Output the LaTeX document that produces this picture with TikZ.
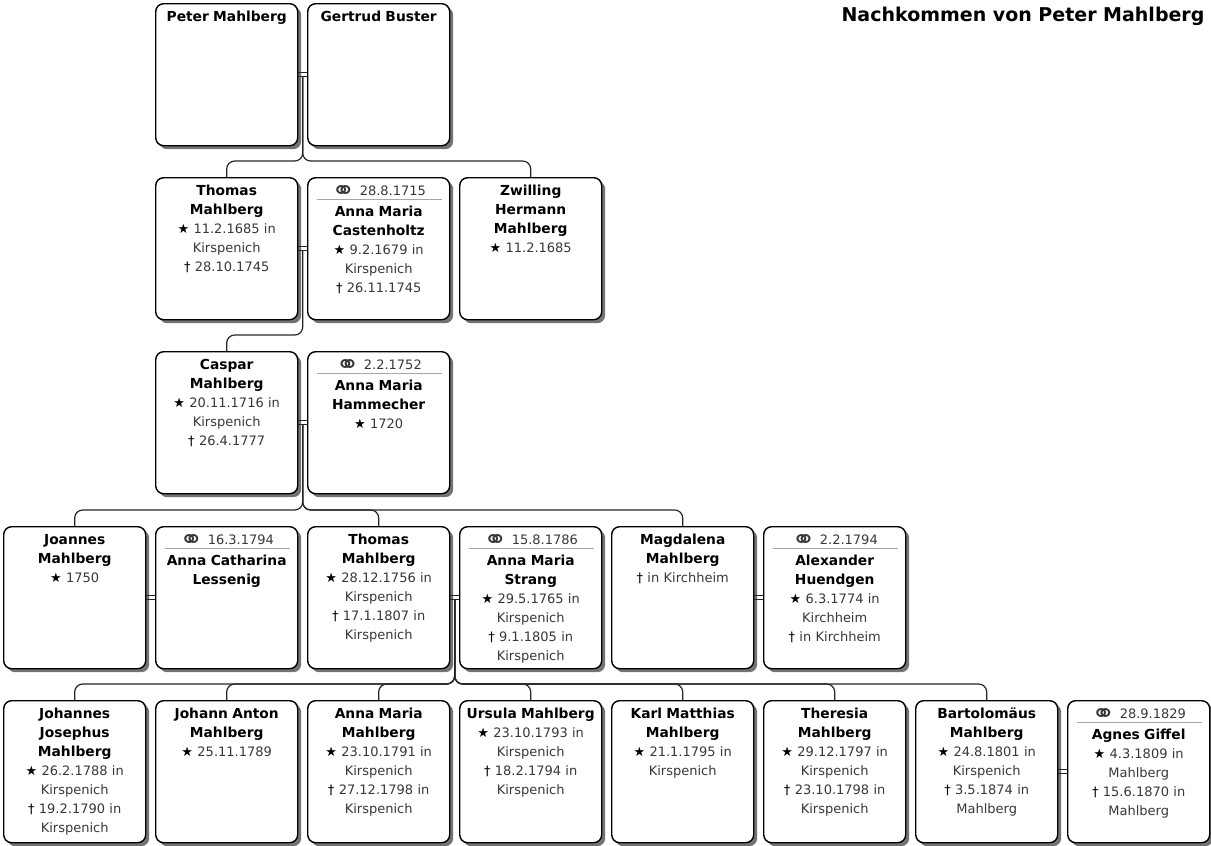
\documentclass[tikz,border=0pt]{standalone}
\usepackage{fontspec}
\usepackage{graphicx}
\setmainfont{DejaVu Sans}
\usetikzlibrary{calc,shadows}
\definecolor{datum}{gray}{0.22}
\definecolor{linie}{gray}{0.15}
\newcommand{\nm}[1]{{\fontsize{13.8}{19}\selectfont\bfseries\color{black}#1}}
\newcommand{\geb}{{\color{black}★}}
\newcommand{\gest}{{\color{black}†}}
\newcommand{\ehe}{\raisebox{-4pt}{\scalebox{2.2}[2]{⚭}}}
\tikzset{
  person/.style={draw=black, line width=1.4pt, fill=white, rounded corners=8pt,
    drop shadow={shadow xshift=3.5pt, shadow yshift=-3.5pt, opacity=0.55, fill=black},
    anchor=north west, text width=136pt, align=center, inner xsep=3pt, inner ysep=2pt,
    text height=16pt, text depth=122pt, text=datum,
    font=\fontsize{13}{19}\selectfont},
  link/.style={draw=linie, line width=1.2pt, rounded corners=8pt},
  couple/.style={draw=linie, line width=1pt},
  trenner/.style={draw=gray!70, line width=0.9pt}
}
\begin{document}
\begin{tikzpicture}[x=1pt,y=-1pt]
   \useasboundingbox (0,0) rectangle (1211,846);
   \node[anchor=base east, font=\fontsize{19}{22}\selectfont\bfseries] (titel) at (1208,21) {Nachkommen von Peter Mahlberg};
   % generation 1
   \node[person] (peter) at (155,3) {\nm{Peter Mahlberg}};
   \node[person] (gertrud) at (307,3) {\nm{Gertrud Buster}};
   % generation 2
   \node[person] (thomas) at (155,177) {\nm{Thomas}\\\nm{Mahlberg}\\\geb{} 11.2.1685 in\\Kirspenich\\\gest{} 28.10.1745};
   \node[person] (castenholtz) at (307,177) {\ehe{} 28.8.1715\\[2pt]\nm{Anna Maria}\\\nm{Castenholtz}\\\geb{} 9.2.1679 in\\Kirspenich\\\gest{} 26.11.1745};
   \node[person] (zwilling) at (459,177) {\nm{Zwilling}\\\nm{Hermann}\\\nm{Mahlberg}\\\geb{} 11.2.1685};
   % generation 3
   \node[person] (caspar) at (155,351) {\nm{Caspar}\\\nm{Mahlberg}\\\geb{} 20.11.1716 in\\Kirspenich\\\gest{} 26.4.1777};
   \node[person] (hammecher) at (307,351) {\ehe{} 2.2.1752\\[2pt]\nm{Anna Maria}\\\nm{Hammecher}\\\geb{} 1720};
   % generation 4
   \node[person] (joannes) at (3,526) {\nm{Joannes}\\\nm{Mahlberg}\\\geb{} 1750};
   \node[person] (lessenig) at (155,526) {\ehe{} 16.3.1794\\[2pt]\nm{Anna Catharina}\\\nm{Lessenig}};
   \node[person] (thomasjr) at (307,526) {\nm{Thomas}\\\nm{Mahlberg}\\\geb{} 28.12.1756 in\\Kirspenich\\\gest{} 17.1.1807 in\\Kirspenich};
   \node[person] (strang) at (459,526) {\ehe{} 15.8.1786\\[2pt]\nm{Anna Maria}\\\nm{Strang}\\\geb{} 29.5.1765 in\\Kirspenich\\\gest{} 9.1.1805 in\\Kirspenich};
   \node[person] (magdalena) at (611,526) {\nm{Magdalena}\\\nm{Mahlberg}\\\gest{} in Kirchheim};
   \node[person] (huendgen) at (763,526) {\ehe{} 2.2.1794\\[2pt]\nm{Alexander}\\\nm{Huendgen}\\\geb{} 6.3.1774 in\\Kirchheim\\\gest{} in Kirchheim};
   % generation 5
   \node[person] (johannes) at (3,700) {\nm{Johannes}\\\nm{Josephus}\\\nm{Mahlberg}\\\geb{} 26.2.1788 in\\Kirspenich\\\gest{} 19.2.1790 in\\Kirspenich};
   \node[person] (johann) at (155,700) {\nm{Johann Anton}\\\nm{Mahlberg}\\\geb{} 25.11.1789};
   \node[person] (annamaria) at (307,700) {\nm{Anna Maria}\\\nm{Mahlberg}\\\geb{} 23.10.1791 in\\Kirspenich\\\gest{} 27.12.1798 in\\Kirspenich};
   \node[person] (ursula) at (459,700) {\nm{Ursula Mahlberg}\\\geb{} 23.10.1793 in\\Kirspenich\\\gest{} 18.2.1794 in\\Kirspenich};
   \node[person] (karl) at (611,700) {\nm{Karl Matthias}\\\nm{Mahlberg}\\\geb{} 21.1.1795 in\\Kirspenich};
   \node[person] (theresia) at (763,700) {\nm{Theresia}\\\nm{Mahlberg}\\\geb{} 29.12.1797 in\\Kirspenich\\\gest{} 23.10.1798 in\\Kirspenich};
   \node[person] (bartolomaeus) at (915,700) {\nm{Bartolomäus}\\\nm{Mahlberg}\\\geb{} 24.8.1801 in\\Kirspenich\\\gest{} 3.5.1874 in\\Mahlberg};
   \node[person] (giffel) at (1067,700) {\ehe{} 28.9.1829\\[2pt]\nm{Agnes Giffel}\\\geb{} 4.3.1809 in\\Mahlberg\\\gest{} 15.6.1870 in\\Mahlberg};
   % separators under the wedding dates
   \foreach \p in {castenholtz,hammecher,lessenig,strang,huendgen,giffel}
      \draw[trenner] ([xshift=10pt,yshift=-22pt]\p.north west) -- ([xshift=-8pt,yshift=-22pt]\p.north east);
   % descent lines
   \coordinate (m1) at ($(peter.east)!0.5!(gertrud.west)+(0,2)$);
   \coordinate (m2) at ($(thomas.east)!0.5!(castenholtz.west)+(0,2)$);
   \coordinate (m3) at ($(caspar.east)!0.5!(hammecher.west)+(0,2)$);
   \coordinate (m4) at ($(thomasjr.east)!0.5!(strang.west)+(0,2)$);
   \foreach \k in {thomas,zwilling}
      \draw[link] (m1) |- ($(\k.north)+(0,-16)$) -- (\k.north);
   \draw[link] (m2) |- ($(caspar.north)+(0,-16)$) -- (caspar.north);
   \foreach \k in {joannes,thomasjr,magdalena}
      \draw[link] (m3) |- ($(\k.north)+(0,-16)$) -- (\k.north);
   \foreach \k in {johannes,johann,annamaria,ursula,karl,theresia,bartolomaeus}
      \draw[link] (m4) |- ($(\k.north)+(0,-16)$) -- (\k.north);
   % couples
   \foreach \a/\b in {peter/gertrud,thomas/castenholtz,caspar/hammecher,joannes/lessenig,thomasjr/strang,magdalena/huendgen,bartolomaeus/giffel} {
      \draw[couple] ([yshift=2pt]\a.east) -- ([yshift=2pt]\b.west);
      \draw[couple] ([yshift=-2pt]\a.east) -- ([yshift=-2pt]\b.west);
   }
\end{tikzpicture}
\end{document}
